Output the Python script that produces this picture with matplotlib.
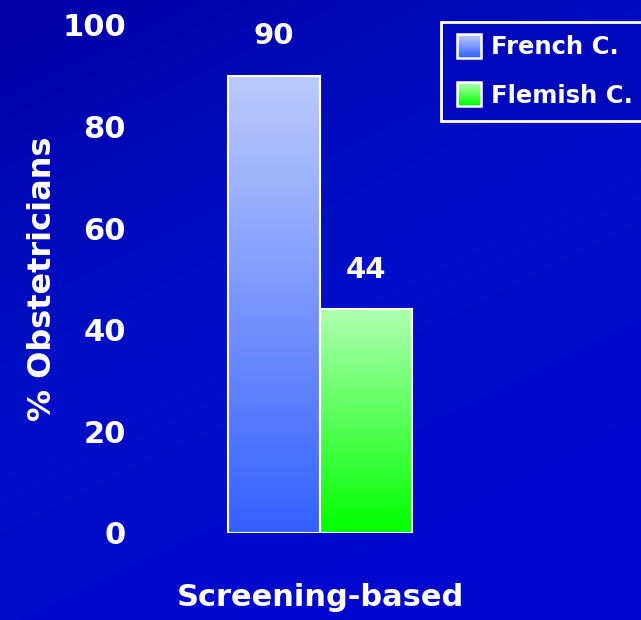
import numpy as np
import matplotlib.pyplot as plt
from matplotlib.colors import LinearSegmentedColormap
from matplotlib.legend_handler import HandlerPatch
from matplotlib.patches import Rectangle

# data
categories = ['Screening-based']
series = ['French C.', 'Flemish C.']
values = [90, 44]
y_ticks = [0, 20, 40, 60, 80, 100]

# gradient colours (top -> bottom)
grad_colors = {
    'French C.': ('#bccbfb', '#3560ff'),
    'Flemish C.': ('#b0ffb0', '#00ff00'),
}

FONT = 'DejaVu Sans'
BG = '#000cbe'


class GradientHandler(HandlerPatch):
    def __init__(self, top, bottom, **kw):
        super().__init__(**kw)
        self.cmap = LinearSegmentedColormap.from_list('g', [bottom, top])

    def create_artists(self, legend, orig_handle, xdescent, ydescent,
                       width, height, fontsize, trans):
        side = height * 1.4
        x0 = -xdescent + (width - side) / 2
        y0 = -ydescent + (height - side) / 2
        arts = []
        n = 12
        for i in range(n):
            r = Rectangle((x0, y0 + side * i / n), side, side / n + 0.3,
                          facecolor=self.cmap(i / (n - 1)), edgecolor='none',
                          transform=trans)
            arts.append(r)
        arts.append(Rectangle((x0, y0), side, side, facecolor='none',
                              edgecolor='white', linewidth=1.8, transform=trans))
        return arts


fig = plt.figure(figsize=(6.41, 6.2), dpi=100)
fig.patch.set_facecolor(BG)

# background gradient: darker top-left, brighter toward bottom/right
bg = fig.add_axes([0, 0, 1, 1], zorder=-10)
yy, xx = np.mgrid[0:1:200j, 0:1:200j]
grad = np.clip(0.4 * xx + 0.8 * yy, 0, 1)
bg_cmap = LinearSegmentedColormap.from_list('bg', ['#0000a6', '#0010c6', '#0008d0'])
bg.imshow(grad, cmap=bg_cmap, aspect='auto', extent=[0, 1, 0, 1], origin='upper')
bg.axis('off')

ax = fig.add_axes([140 / 641, 87 / 620, 360 / 641, 508 / 620])
ax.set_facecolor('none')

bar_w = 0.511
x = np.arange(len(categories))
offsets = [-bar_w / 2, bar_w / 2]
for name, off, val in zip(series, offsets, values):
    b = ax.bar(x + off, [val], width=bar_w, facecolor='none',
               edgecolor='white', linewidth=1.5, zorder=3)
    rect = b.patches[0]
    top, bottom = grad_colors[name]
    cmap = LinearSegmentedColormap.from_list(name, [bottom, top])
    g = np.linspace(0, 1, 256).reshape(-1, 1)
    x0 = rect.get_x()
    im = ax.imshow(g, cmap=cmap, aspect='auto', origin='lower',
                   extent=[x0, x0 + bar_w, 0, val], zorder=2)
    im.set_clip_path(rect)
    ax.text(x[0] + off, val + 5, str(val), ha='center', va='bottom',
            color='white', fontsize=21, fontweight='bold', family=FONT)

ax.set_xlim(-1, 1)
ax.set_ylim(0, 100)
ax.set_yticks(y_ticks)
ax.set_yticklabels([str(t) for t in y_ticks], color='white', fontsize=22,
                   fontweight='bold', family=FONT)
ax.tick_params(axis='y', length=0, pad=10)
ax.set_xticks([])
for s in ax.spines.values():
    s.set_visible(False)

ax.set_ylabel('% Obstetricians', color='white', fontsize=23, fontweight='bold',
              family=FONT, labelpad=3)
ax.set_xlabel(categories[0], color='white', fontsize=22, fontweight='bold',
              family=FONT, labelpad=36)

handles = [Rectangle((0, 0), 1, 1) for _ in series]
hmap = {h: GradientHandler(*grad_colors[n]) for h, n in zip(handles, series)}
leg = fig.legend(handles, series, handler_map=hmap, loc='upper left',
                 bbox_to_anchor=(441 / 641, 1 - 22 / 620), borderaxespad=0,
                 frameon=True, fancybox=False, facecolor='#0008bc',
                 edgecolor='white', labelcolor='white', borderpad=0.55,
                 handlelength=1.2, handletextpad=0.3, labelspacing=1.0,
                 prop={'family': FONT, 'weight': 'bold', 'size': 17.5})
leg.get_frame().set_linewidth(2)
leg.get_frame().set_alpha(1)

plt.savefig('out.png', dpi=100, facecolor=fig.get_facecolor())
